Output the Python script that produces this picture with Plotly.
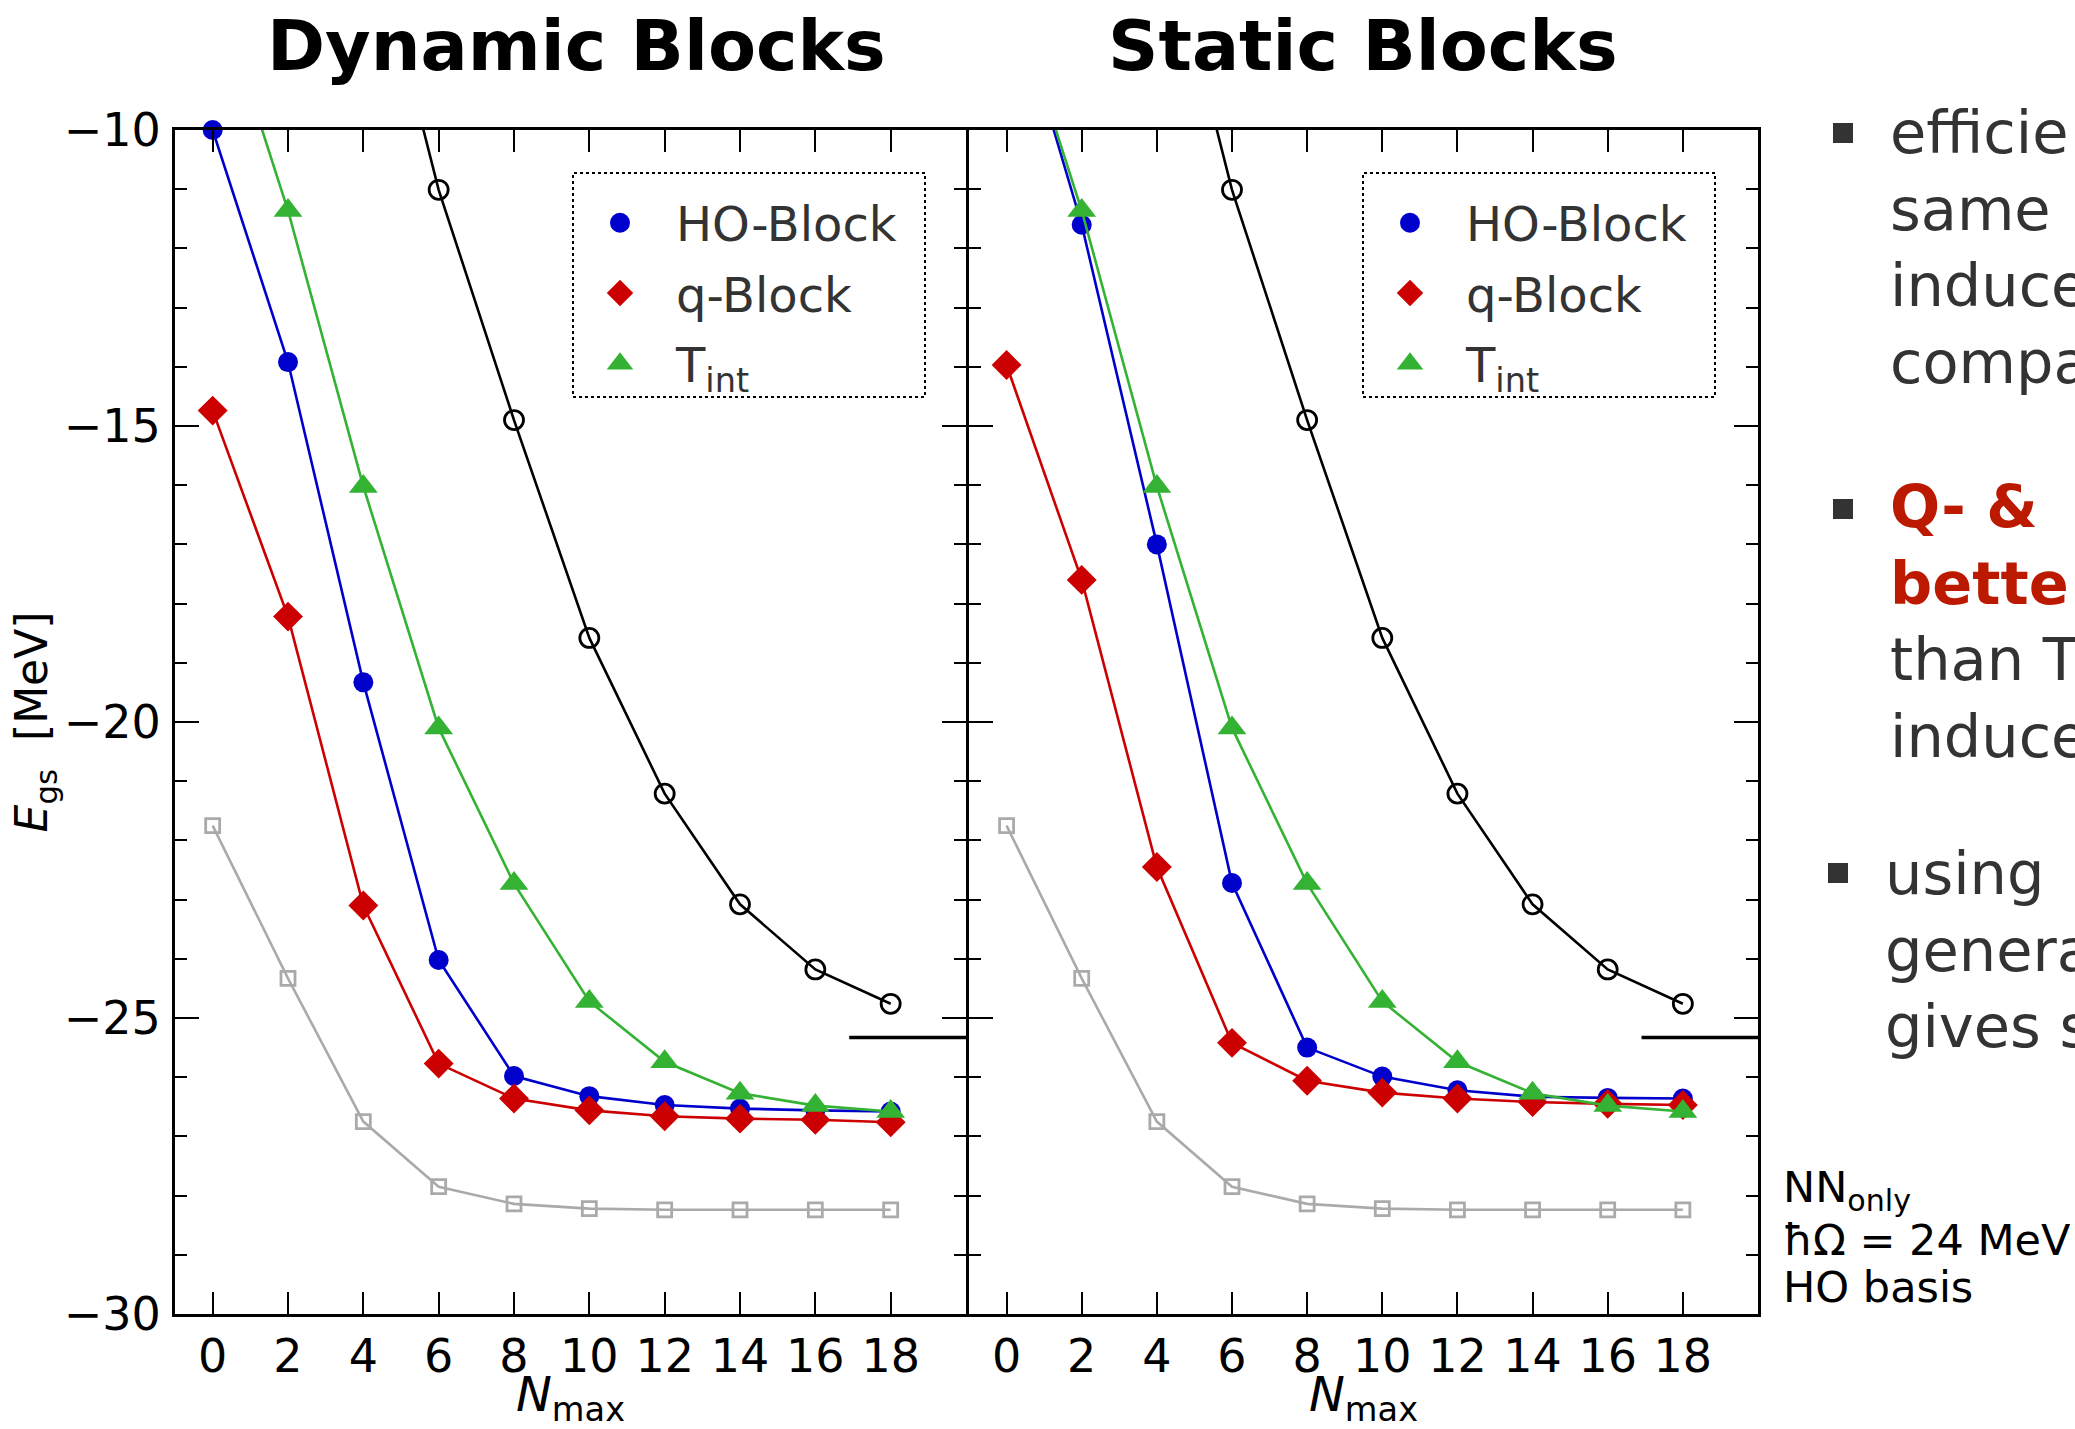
import plotly.graph_objects as go

W, H = 2075, 1429

# ---------------- data ----------------
nmax = [0, 2, 4, 6, 8, 10, 12, 14, 16, 18]
x_ticks = [0, 2, 4, 6, 8, 10, 12, 14, 16, 18]

# Dynamic blocks
ho_dyn = [-10.0, -13.92, -19.33, -24.02, -25.98, -26.32, -26.47, -26.53, -26.56, -26.58]
q_dyn = [-14.74, -18.22, -23.10, -25.77, -26.36, -26.56, -26.66, -26.70, -26.72, -26.76]
# Static blocks
ho_sta = [-7.3, -11.60, -17.00, -22.72, -25.50, -25.99, -26.22, -26.33, -26.35, -26.36]
q_sta = [-13.97, -17.60, -22.45, -25.42, -26.06, -26.26, -26.36, -26.42, -26.45, -26.47]
# common curves
t_int = [-7.4, -11.36, -16.02, -20.10, -22.73, -24.72, -25.74, -26.27, -26.48, -26.58]
bare = [None, None, -6.0, -11.01, -14.90, -18.58, -21.21, -23.08, -24.18, -24.76]
nn_only = [-21.75, -24.33, -26.75, -27.85, -28.14, -28.22, -28.24, -28.24, -28.24, -28.24]
ref_x = [16.9, 20.0]
ref_e = [-25.33, -25.33]

legend_names = ["HO-Block", "q-Block", "T<sub>int</sub>"]

# ---------------- styles ----------------
BLUE = "#0000cc"
RED = "#cc0000"
GREEN = "#33b233"
GRAY = "#aaaaaa"
FONT = "DejaVu Sans"
TXT = "#333333"
LW = 2.6

fig = go.Figure()


def add_panel(xa, ya, ho, q, leg):
    fig.add_trace(go.Scatter(x=nmax, y=nn_only, mode="lines+markers", xaxis=xa, yaxis=ya,
                             line=dict(color=GRAY, width=LW),
                             marker=dict(symbol="square-open", size=14, color=GRAY, line=dict(width=2.8)),
                             showlegend=False, cliponaxis=False))
    fig.add_trace(go.Scatter(x=nmax, y=bare, mode="lines+markers", xaxis=xa, yaxis=ya,
                             line=dict(color="black", width=LW),
                             marker=dict(symbol="circle-open", size=19, color="black", line=dict(width=2.8)),
                             showlegend=False, cliponaxis=True))
    fig.add_trace(go.Scatter(x=ref_x, y=ref_e, mode="lines", xaxis=xa, yaxis=ya,
                             line=dict(color="black", width=3.5), showlegend=False))
    fig.add_trace(go.Scatter(x=nmax, y=ho, mode="lines+markers", xaxis=xa, yaxis=ya,
                             line=dict(color=BLUE, width=LW),
                             marker=dict(symbol="circle", size=20, color=BLUE),
                             showlegend=False, cliponaxis=(ho[0] < -10.05)))
    fig.add_trace(go.Scatter(x=nmax, y=q, mode="lines+markers", xaxis=xa, yaxis=ya,
                             line=dict(color=RED, width=LW),
                             marker=dict(symbol="diamond", size=23, color=RED),
                             showlegend=False, cliponaxis=False))
    fig.add_trace(go.Scatter(x=nmax, y=t_int, mode="lines+markers", xaxis=xa, yaxis=ya,
                             line=dict(color=GREEN, width=LW),
                             marker=dict(symbol="triangle-up", size=25, color=GREEN),
                             showlegend=False, cliponaxis=True))
    # legend entries (markers only)
    for name, sym, col, g in zip(legend_names, ["circle", "diamond", "triangle-up"],
                                 [BLUE, RED, GREEN], ["a", "b", "c"]):
        fig.add_trace(go.Scatter(x=[None], y=[None], mode="markers", xaxis=xa, yaxis=ya,
                                 name=name, legend=leg, legendgroup=leg + g,
                                 marker=dict(symbol=sym, size=16, color=col,
                                             line=dict(width=4, color=col))))


add_panel("x", "y", ho_dyn, q_dyn, "legend")
add_panel("x2", "y2", ho_sta, q_sta, "legend2")

# ---------------- axes ----------------
def px_x(p):
    return p / W


def px_y(p):
    return 1 - p / H


X0, XM, XM2, X1 = 175, 966, 969, 1758
Y0, Y1 = 130, 1314

xcommon = dict(range=[-1, 20], tickvals=x_ticks, ticks="inside", ticklen=22, tickwidth=2.2,
               tickcolor="black", showline=True, linewidth=3, linecolor="black", mirror="ticks",
               showgrid=False, zeroline=False, automargin=False,
               tickfont=dict(family=FONT, size=46, color="black"),
               ticklabelstandoff=0,
               title=dict(text="<i>N</i><sub>max</sub>", font=dict(family=FONT, size=48, color="black"),
                          standoff=18))
ycommon = dict(range=[-30, -10], dtick=5, tick0=-30, ticks="inside", ticklen=24, tickwidth=2.2,
               tickcolor="black", showline=True, linewidth=3, linecolor="black", mirror="ticks",
               showgrid=False, zeroline=False, automargin=False,
               minor=dict(dtick=1, ticks="inside", ticklen=12, tickwidth=2, tickcolor="black", showgrid=False),
               tickfont=dict(family=FONT, size=46, color="black"), domain=[px_y(Y1), px_y(Y0)])

LEG = dict(xanchor="left", yanchor="top", bgcolor="rgba(0,0,0,0)", borderwidth=0,
           font=dict(family=FONT, size=48, color=TXT), tracegroupgap=5, itemwidth=102)

fig.update_layout(
    width=W, height=H, margin=dict(l=0, r=0, t=0, b=0),
    paper_bgcolor="white", plot_bgcolor="white",
    font=dict(family=FONT, color="black"),
    xaxis=dict(domain=[px_x(X0), px_x(XM)], anchor="y", **xcommon),
    xaxis2=dict(domain=[px_x(XM2), px_x(X1)], anchor="y2", **xcommon),
    yaxis=dict(anchor="x", ticklabelstandoff=2,
               title=dict(text="<i>E</i><sub>gs</sub>  [MeV]", font=dict(family=FONT, size=44, color="black"),
                          standoff=0), **ycommon),
    yaxis2=dict(anchor="x2", showticklabels=False, matches="y", **ycommon),
    legend=dict(x=px_x(564), y=px_y(185), **LEG),
    legend2=dict(x=px_x(1354), y=px_y(185), **LEG),
)

# dotted legend frames
for lx0, lx1 in [(573, 925), (1363, 1715)]:
    fig.add_shape(type="rect", xref="paper", yref="paper", x0=px_x(lx0), x1=px_x(lx1),
                  y0=px_y(397), y1=px_y(173), line=dict(color="black", width=2, dash="dot"))

# titles
fig.add_annotation(text="<b>Dynamic Blocks</b>", xref="paper", yref="paper", x=px_x(576), y=px_y(46),
                   xanchor="center", yanchor="middle", showarrow=False,
                   font=dict(family=FONT, size=70, color="black"))
fig.add_annotation(text="<b>Static Blocks</b>", xref="paper", yref="paper", x=px_x(1363), y=px_y(46),
                   xanchor="center", yanchor="middle", showarrow=False,
                   font=dict(family=FONT, size=70, color="black"))

# side text (cut by the page edge)
bullets = [
    ("efficie<br>same<br>induce<br>compa", 248, 133, 1888),
    ("<span style='color:#bb1a00'><b>Q- &amp;</b></span><br><span style='color:#bb1a00'><b>bette</b></span><br>than T<br>induce", 622, 509, 1888),
    ("using<br>genera<br>gives s", 950, 873, 1883),
]
for txt, ymid, yb, xl in bullets:
    fig.add_annotation(text=txt, xref="paper", yref="paper", x=px_x(xl), y=px_y(ymid),
                       xanchor="left", yanchor="middle", align="left", showarrow=False,
                       font=dict(family=FONT, size=59, color=TXT))
    fig.add_shape(type="rect", xref="paper", yref="paper", x0=px_x(xl - 55), x1=px_x(xl - 35),
                  y0=px_y(yb + 10), y1=px_y(yb - 10), fillcolor=TXT, line=dict(width=0))

for line, yc in [("NN<sub>only</sub>", 1190), ("ħΩ = 24 MeV", 1240), ("HO basis", 1287)]:
    fig.add_annotation(text=line, xref="paper", yref="paper", x=px_x(1781), y=px_y(yc),
                       xanchor="left", yanchor="middle", align="left", showarrow=False,
                       font=dict(family=FONT, size=43, color="black"))

fig.write_html("out.html")
